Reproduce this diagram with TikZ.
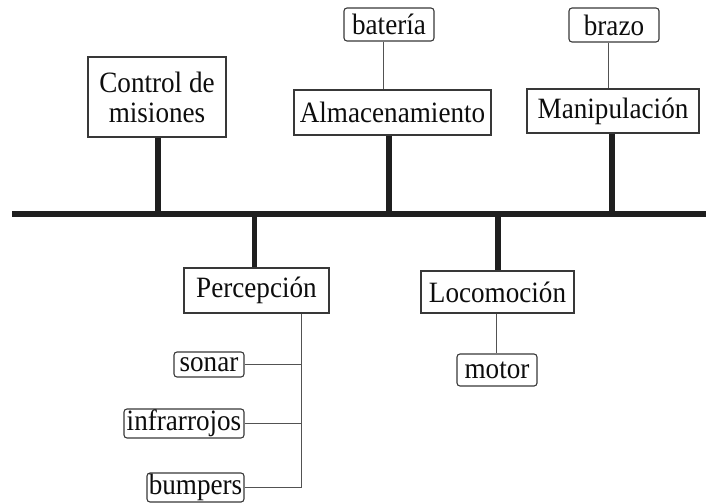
\documentclass[tikz,border=0pt]{standalone}
\usepackage{fontspec}
\setmainfont{Liberation Serif}[FakeStretch=0.92]
\begin{document}
\begin{tikzpicture}[x=1pt,y=-1pt,
  every node/.style={font=\fontsize{29.5}{30}\selectfont, inner sep=0pt, text=black!95},
  unit/.style={draw=black!78, line width=1.1pt, rectangle, align=center},
  part/.style={draw=black!78, line width=1.1pt, rectangle, rounded corners=3pt},
  bus/.style={line width=6pt, draw=black!88},
  stem/.style={line width=5.5pt, draw=black!88},
  link/.style={line width=1pt, draw=black!68}]
\useasboundingbox (0,0) rectangle (706,503);

% main bus
\coordinate (busL) at (12,214);
\coordinate (busR) at (706,214);
\draw[bus] (busL) -- (busR);

% subsystems above the bus
\node[unit, minimum width=138pt, minimum height=80pt] (ctrl) at (157,97) {Control de\\misiones};
\node[unit, minimum width=197pt, minimum height=45pt] (alm) at (392.5,112.5) {Almacenamiento};
\node[unit, minimum width=172pt, minimum height=44pt] (man) at (613,111) {Manipulación};
\node[part, minimum width=90pt, minimum height=33pt] (bat) at (389,24.5) {batería};
\node[part, minimum width=90pt, minimum height=34pt] (brz) at (614,25) {brazo};

% subsystems below the bus
\node[unit, minimum width=145pt, minimum height=45pt] (per) at (256.5,290.5) {Percepción};
\node[unit, minimum width=153pt, minimum height=42pt] (loc) at (497.5,292) {Locomoción};
\node[part, minimum width=80pt, minimum height=32pt] (mot) at (497,370) {motor};
\node[part, minimum width=70pt, minimum height=25pt] (son) at (209,364.5) {sonar};
\node[part, minimum width=120pt, minimum height=29pt] (inf) at (184,423.5) {infrarrojos};
\node[part, minimum width=97pt, minimum height=29pt] (bum) at (195.5,487.5) {bumpers};

% junctions on the bus
\coordinate (j1) at (158,214);
\coordinate (j2) at (254.5,214);
\coordinate (j3) at (389,214);
\coordinate (j4) at (498,214);
\coordinate (j5) at (612,214);

\draw[stem] (ctrl.south -| j1) -- (j1);
\draw[stem] (alm.south -| j3) -- (j3);
\draw[stem] (man.south -| j5) -- (j5);
\draw[stem] (j2) -- (per.north -| j2);
\draw[stem] (j4) -- (loc.north -| j4);

% component links
\draw[link] ([xshift=-6pt]bat.south) -- ([xshift=-6pt]bat.south |- alm.north);
\draw[link] ([xshift=-6pt]brz.south) -- ([xshift=-6pt]brz.south |- man.north);
\draw[link] ([xshift=-1.5pt]loc.south) -- ([xshift=-1.5pt]loc.south |- mot.north);

\coordinate (sp) at (301,0);
\draw[link] (per.south -| sp) -- (bum.east -| sp) -- (bum.east);
\draw[link] (son.east) -- (son.east -| sp);
\draw[link] (inf.east) -- (inf.east -| sp);
\end{tikzpicture}
\end{document}
